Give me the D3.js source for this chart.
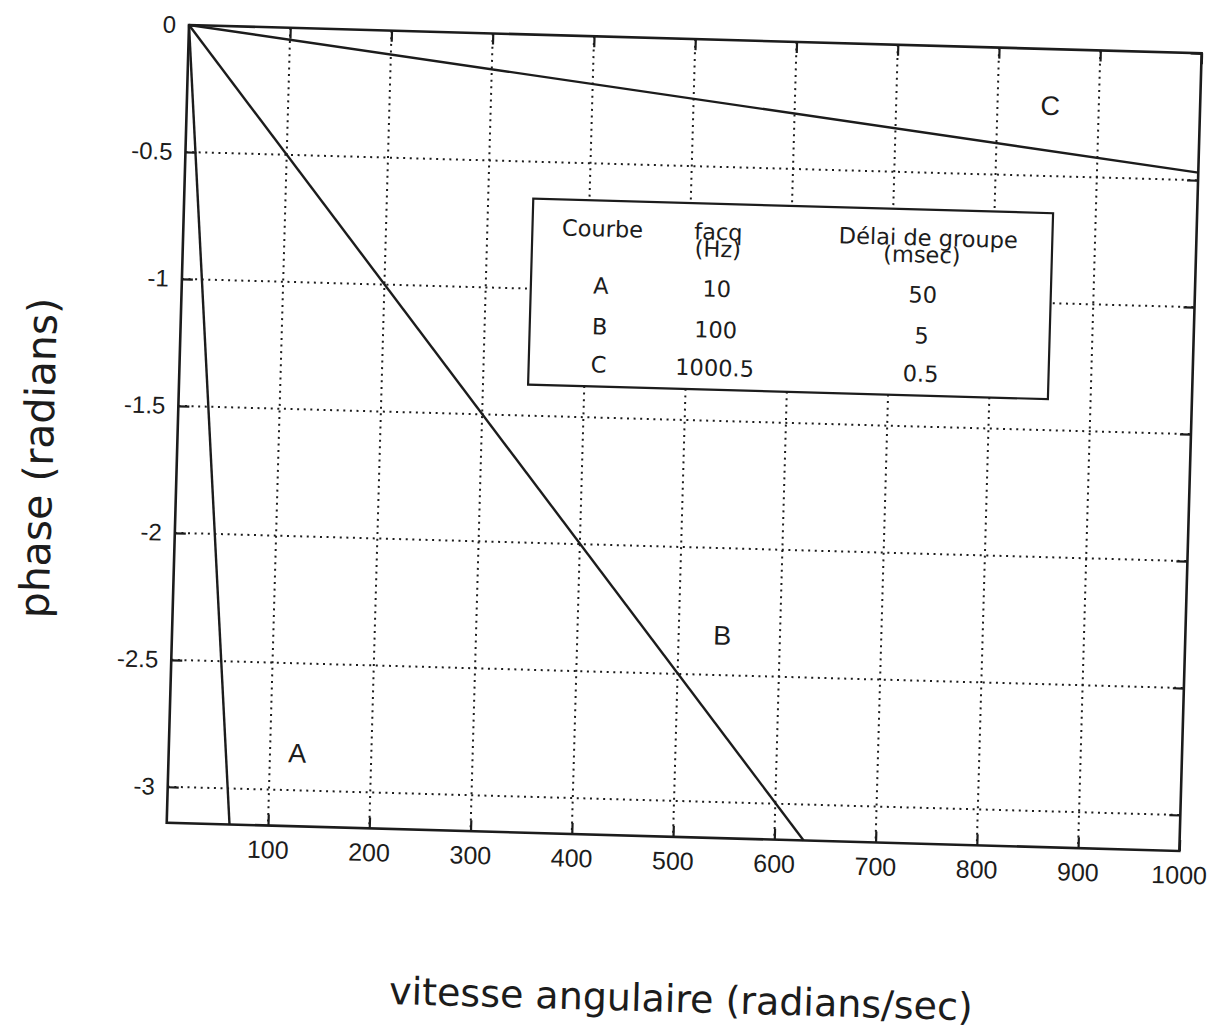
<!DOCTYPE html>
<html>
<head>
<meta charset="utf-8">
<script src="https://cdn.jsdelivr.net/npm/d3@7"></script>
<style>
body{margin:0;background:#fff;}
</style>
</head>
<body>
<svg id="chart" width="1218" height="1034"></svg>
<script>
// phase en fonction de la vitesse angulaire, trois courbes
var curveNames = ["A","B","C"];
var omegaStart = [0,0,0];
var phaseStart = [0,0,0];
var omegaEnd = [62,629,1000];
var phaseEnd = [-3.1416,-3.1416,-0.47];

// position des lettres A, B, C (en unites du graphe)
var labelOmega = [127,543,852];
var labelPhase = [-2.89,-2.38,-0.26];

var xTicks = [100,200,300,400,500,600,700,800,900,1000];
var yTicks = [0,-0.5,-1,-1.5,-2,-2.5,-3];
var yTickLabels = ["0","-0.5","-1","-1.5","-2","-2.5","-3"];
var xGrid = [100,200,300,400,500,600,700,800,900];
var yGrid = [-0.5,-1,-1.5,-2,-2.5,-3];
var xMax = 1000, yMin = -Math.PI;

// tableau
var legendHead = ["Courbe","facq","Délai de groupe"];
var legendUnits = ["","(Hz)","(msec)"];
var facq = ["10","100","1000.5"];
var delai = ["50","5","0.5"];

var svg = d3.select("#chart");
var margin = {top:25, left:189},
    width = 1013,
    height = 798,
    tilt = 1.6,   // the scan is slightly turned
    ink = "#1c1c1c",
    numFont = "'Liberation Sans', Arial, sans-serif",
    txtFont = "'DejaVu Sans', sans-serif";

svg.append("rect").attr("width",1218).attr("height",1034).attr("fill","#fff");

var root = svg.append("g")
    .attr("transform","rotate("+tilt+","+margin.left+","+margin.top+")");
var g = root.append("g")
    .attr("transform","translate("+margin.left+","+margin.top+")");

var x = d3.scaleLinear().domain([0,xMax]).range([0,width]);
var y = d3.scaleLinear().domain([yMin,0]).range([height,0]);

//dotted grid
g.append("g").selectAll("line").data(xGrid).join("line")
    .attr("x1",function(d){return x(d)}).attr("x2",function(d){return x(d)})
    .attr("y1",0).attr("y2",height);
g.append("g").selectAll("line").data(yGrid).join("line")
    .attr("x1",0).attr("x2",width)
    .attr("y1",function(d){return y(d)}).attr("y2",function(d){return y(d)});
g.selectAll("g line")
    .attr("stroke",ink).attr("stroke-width",2).attr("stroke-dasharray","2,4.6");

// axes with inward ticks
var xaxis = g.append("g").attr("transform","translate(0,"+height+")")
    .call(d3.axisBottom(x).tickValues(xTicks).tickFormat(function(d){return String(d)})
      .tickSizeInner(-11).tickSizeOuter(0).tickPadding(15));
var yaxis = g.append("g")
    .call(d3.axisLeft(y).tickValues(yTicks).tickFormat(function(d,i){return yTickLabels[i]})
      .tickSizeInner(-11).tickSizeOuter(0).tickPadding(13));
var topaxis = g.append("g")
    .call(d3.axisTop(x).tickValues(xTicks).tickSizeInner(-11).tickSizeOuter(0).tickFormat(""));
var rightaxis = g.append("g").attr("transform","translate("+width+",0)")
    .call(d3.axisRight(y).tickValues(yTicks).tickSizeInner(-11).tickSizeOuter(0).tickFormat(""));

[xaxis,yaxis,topaxis,rightaxis].forEach(function(a){
    a.select(".domain").remove();
    a.selectAll(".tick line").attr("stroke",ink).attr("stroke-width",2.2);
    a.selectAll(".tick text").attr("fill",ink).style("font-family",numFont);
});
xaxis.selectAll(".tick text").style("font-size","25px");
yaxis.selectAll(".tick text").style("font-size","24px");

// frame
g.append("rect").attr("width",width).attr("height",height)
    .attr("fill","none").attr("stroke",ink).attr("stroke-width",2.6);

// curves
var line = d3.line().x(function(d){return x(d[0])}).y(function(d){return y(d[1])});
curveNames.forEach(function(c,i){
    g.append("path")
      .datum([[omegaStart[i],phaseStart[i]],[omegaEnd[i],phaseEnd[i]]])
      .attr("d",line)
      .attr("fill","none").attr("stroke",ink).attr("stroke-width",2.4);
    g.append("text")
      .attr("x",x(labelOmega[i])).attr("y",y(labelPhase[i]))
      .attr("text-anchor","middle")
      .style("font-family",numFont).style("font-size","27px")
      .attr("fill",ink).text(c);
});

// legend table
var leg = root.append("g").attr("transform","translate(538,189)");
leg.append("rect").attr("width",520).attr("height",186)
    .attr("fill","#fff").attr("stroke",ink).attr("stroke-width",2.2);
var colX = [70,186,396],
    headY = 36, unitY = 53,
    rowY = [93,134,172];
legendHead.forEach(function(h,i){
    leg.append("text").attr("x",colX[i]).attr("y",headY).text(h);
    if (legendUnits[i]!="") {
      leg.append("text").attr("x",colX[i]-(i==2?6:0)).attr("y",unitY).text(legendUnits[i]);
    };
});
curveNames.forEach(function(c,i){
    leg.append("text").attr("x",colX[0]).attr("y",rowY[i]).text(c);
    leg.append("text").attr("x",colX[1]).attr("y",rowY[i]).text(facq[i]);
    leg.append("text").attr("x",colX[2]-4).attr("y",rowY[i]).text(delai[i]);
});
leg.selectAll("text").attr("text-anchor","middle").attr("fill",ink)
    .style("font-family",txtFont).style("font-size","22.5px");

// axis titles
root.append("text")
    .attr("transform","translate(65,462) rotate(-90)")
    .attr("text-anchor","middle").attr("fill",ink)
    .style("font-family",txtFont).style("font-size","41px")
    .text("phase (radians)");
root.append("text")
    .attr("x",708).attr("y",998)
    .attr("text-anchor","middle").attr("fill",ink)
    .style("font-family",txtFont).style("font-size","38px")
    .text("vitesse angulaire (radians/sec)");
</script>
</body>
</html>
